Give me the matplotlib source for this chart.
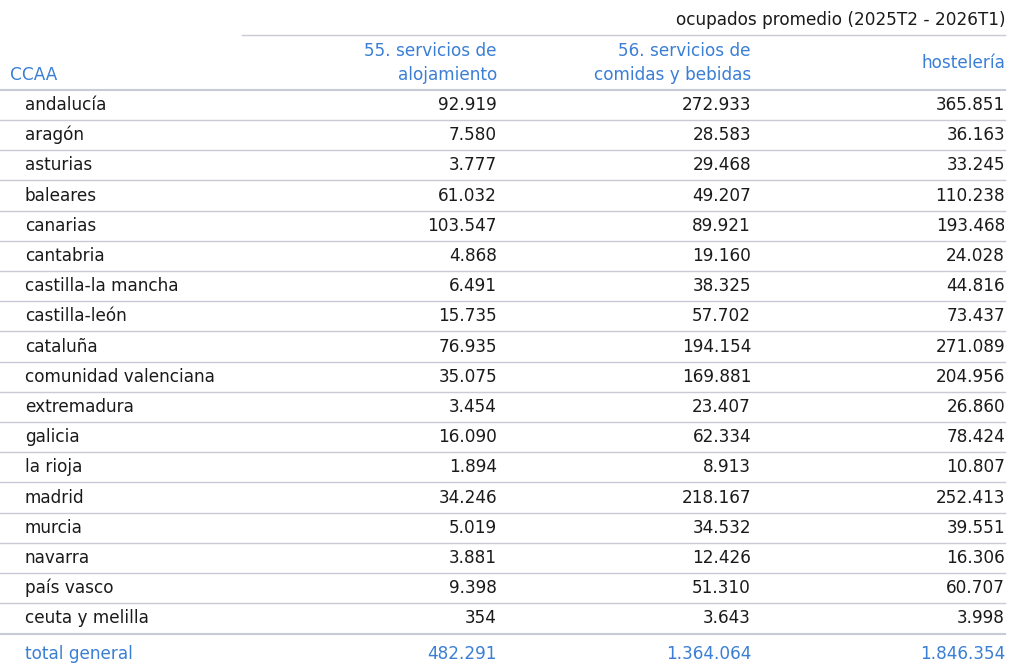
import matplotlib
matplotlib.use("Agg")
import matplotlib.pyplot as plt

regions = ["andalucía","aragón","asturias","baleares","canarias","cantabria",
           "castilla-la mancha","castilla-león","cataluña","comunidad valenciana",
           "extremadura","galicia","la rioja","madrid","murcia","navarra",
           "país vasco","ceuta y melilla"]
aloj = ["92.919","7.580","3.777","61.032","103.547","4.868","6.491","15.735","76.935",
        "35.075","3.454","16.090","1.894","34.246","5.019","3.881","9.398","354"]
comidas = ["272.933","28.583","29.468","49.207","89.921","19.160","38.325","57.702",
           "194.154","169.881","23.407","62.334","8.913","218.167","34.532","12.426",
           "51.310","3.643"]
host = ["365.851","36.163","33.245","110.238","193.468","24.028","44.816","73.437",
        "271.089","204.956","26.860","78.424","10.807","252.413","39.551","16.306",
        "60.707","3.998"]
total = ["total general","482.291","1.364.064","1.846.354"]
headers = ["55. servicios de\nalojamiento","56. servicios de\ncomidas y bebidas","hostelería"]
title = "ocupados promedio (2025T2 - 2026T1)"

blue = "#3a7fd5"
dark = "#1a1a1a"
lc = "#c8cbd6"
fs = 12.2

fig = plt.figure(figsize=(10.24, 6.72), dpi=100)
ax = fig.add_axes([0, 0, 1, 1])
ax.set_xlim(0, 1024); ax.set_ylim(672, 0); ax.axis("off")

cols = [497, 751, 1005]
ax.text(1005, 20, title, ha="right", va="center", fontsize=fs, color=dark)
ax.plot([242, 1005], [35, 35], color=lc, lw=1)
ax.text(10, 75, "CCAA", ha="left", va="center", fontsize=fs, color=blue)
for x, h in zip(cols, headers):
    ax.text(x, 63, h, ha="right", va="center", fontsize=fs, color=blue, linespacing=1.45)
ax.plot([0, 1005], [90, 90], color=lc, lw=1.5)

y0, dy = 105, 30.2
for i, r in enumerate(regions):
    y = y0 + i * dy
    ax.text(25, y, r, ha="left", va="center", fontsize=fs, color=dark)
    for x, v in zip(cols, [aloj[i], comidas[i], host[i]]):
        ax.text(x, y, v, ha="right", va="center", fontsize=fs, color=dark)
    if i < len(regions) - 1:
        ax.plot([0, 1005], [y + 15, y + 15], color=lc, lw=1)
ax.plot([0, 1005], [634, 634], color=lc, lw=1.5)
ty = 654
ax.text(25, ty, total[0], ha="left", va="center", fontsize=fs, color=blue)
for x, v in zip(cols, total[1:]):
    ax.text(x, ty, v, ha="right", va="center", fontsize=fs, color=blue)

fig.savefig("out.png", dpi=100)
